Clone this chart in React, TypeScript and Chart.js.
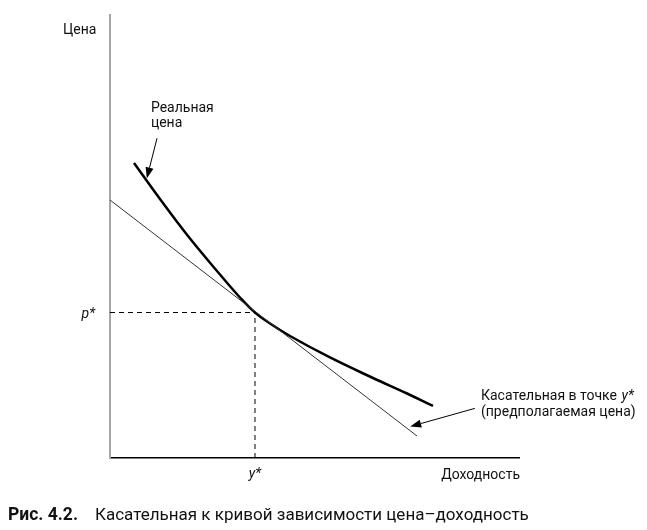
import React, { useEffect, useRef } from "react";
import { Chart, registerables } from "chart.js";

Chart.register(...registerables);

const yieldValues = [5.87, 12.22, 19.07, 26.89, 31.78, 35.45, 39.12, 44.01, 53.79, 64.3, 72.62, 78.97];
const actualPrice = [66.59, 58.47, 50.11, 41.42, 36.23, 32.84, 30.36, 27.54, 22.69, 18.06, 14.56, 11.74];

// Tangent line at y*
const tangentX = [0, 75.06];
const tangentY = [58.24, 4.97];

// Tangency point
const yStar = 35.45;
const pStar = 32.84;

// Arrow annotations (from -> to), chart units
const arrowReal = [11.5, 72.2, 9.0, 63.1];
const arrowTangent = [89.2, 11.2, 73.4, 7.1];

const labelPrice = "Цена";
const labelYield = "Доходность";
const labelReal = ["Реальная", "цена"];
const labelTangent1 = "Касательная в точке ";
const labelTangent2 = "(предполагаемая цена)";
const captionBold = "Рис. 4.2.";
const captionText = "Касательная к кривой зависимости цена–доходность";

const FONT = "Roboto, 'Noto Sans', sans-serif";

function drawArrow(ctx: CanvasRenderingContext2D, x0: number, y0: number, x1: number, y1: number) {
  const ang = Math.atan2(y1 - y0, x1 - x0);
  const len = 11;
  const hw = 4;
  const bx = x1 - len * Math.cos(ang);
  const by = y1 - len * Math.sin(ang);
  ctx.beginPath();
  ctx.moveTo(x0, y0);
  ctx.lineTo(bx, by);
  ctx.lineWidth = 1;
  ctx.strokeStyle = "#000";
  ctx.stroke();
  ctx.beginPath();
  ctx.moveTo(x1, y1);
  ctx.lineTo(bx + hw * Math.sin(ang), by - hw * Math.cos(ang));
  ctx.lineTo(bx - hw * Math.sin(ang), by + hw * Math.cos(ang));
  ctx.closePath();
  ctx.fillStyle = "#000";
  ctx.fill();
}

const annotations = {
  id: "annotations",
  afterDraw(chart: any) {
    const ctx: CanvasRenderingContext2D = chart.ctx;
    const xs = chart.scales.x;
    const ys = chart.scales.y;
    const area = chart.chartArea;
    const px = (v: number) => xs.getPixelForValue(v);
    const py = (v: number) => ys.getPixelForValue(v);
    ctx.save();

    drawArrow(ctx, px(arrowReal[0]), py(arrowReal[1]), px(arrowReal[2]), py(arrowReal[3]));
    drawArrow(ctx, px(arrowTangent[0]), py(arrowTangent[1]), px(arrowTangent[2]), py(arrowTangent[3]));

    ctx.fillStyle = "#111";
    ctx.textBaseline = "alphabetic";
    ctx.font = `14px ${FONT}`;
    ctx.textAlign = "left";
    ctx.fillText(labelPrice, area.left - 47, 34);
    ctx.fillText(labelReal[0], px(10.0), 112);
    ctx.fillText(labelReal[1], px(10.0), 127);

    // tangent label
    const tx = area.right - 38;
    ctx.fillText(labelTangent1, tx, 400);
    const w1 = ctx.measureText(labelTangent1).width;
    ctx.font = `italic 14px ${FONT}`;
    ctx.fillText("y*", tx + w1 + 1, 400);
    ctx.font = `14px ${FONT}`;
    ctx.fillText(labelTangent2, tx, 416);

    ctx.textAlign = "right";
    ctx.fillText(labelYield, area.right + 1, 479);

    ctx.font = `italic 14px ${FONT}`;
    ctx.textAlign = "right";
    ctx.fillText("p*", area.left - 15, 318);
    ctx.textAlign = "center";
    ctx.fillText("y*", px(yStar), 478);

    // caption
    ctx.textAlign = "left";
    ctx.font = `bold 17.5px ${FONT}`;
    ctx.fillText(captionBold, 8, 520);
    ctx.font = `17px ${FONT}`;
    ctx.fillText(captionText, 95, 520);

    ctx.restore();
  },
};

export default function App() {
  const ref = useRef<HTMLCanvasElement>(null);
  useEffect(() => {
    if (!ref.current) return;
    const chart = new Chart(ref.current, {
      type: "scatter",
      data: {
        datasets: [
          {
            data: [
              { x: 0, y: pStar },
              { x: yStar, y: pStar },
            ],
            showLine: true,
            borderColor: "#000",
            borderWidth: 1,
            borderDash: [5, 4],
            pointRadius: 0,
          },
          {
            data: [
              { x: yStar, y: 0 },
              { x: yStar, y: pStar },
            ],
            showLine: true,
            borderColor: "#000",
            borderWidth: 1,
            borderDash: [5, 4],
            pointRadius: 0,
          },
          {
            data: tangentX.map((x, i) => ({ x, y: tangentY[i] })),
            showLine: true,
            borderColor: "#333",
            borderWidth: 1,
            pointRadius: 0,
          },
          {
            data: yieldValues.map((x, i) => ({ x, y: actualPrice[i] })),
            showLine: true,
            borderColor: "#000",
            borderWidth: 2.5,
            pointRadius: 0,
            tension: 0.4,
          },
        ],
      },
      options: {
        animation: false,
        responsive: false,
        devicePixelRatio: 1,
        layout: { padding: { left: 110, right: 128, top: 15, bottom: 72 } },
        plugins: { legend: { display: false }, tooltip: { enabled: false } },
        scales: {
          x: {
            type: "linear",
            min: 0,
            max: 100,
            grid: { display: false, drawTicks: false },
            ticks: { display: false },
            border: { display: true, color: "#000", width: 1.5 },
          },
          y: {
            type: "linear",
            min: 0,
            max: 100,
            grid: { display: false, drawTicks: false },
            ticks: { display: false },
            border: { display: true, color: "#a6a6a6", width: 2 },
          },
        },
      },
      plugins: [annotations],
    });
    return () => chart.destroy();
  }, []);
  return (
    <div style={{ position: "absolute", left: 0, top: 0, width: 647, height: 530, background: "#fff" }}>
      <canvas ref={ref} width={647} height={530} style={{ width: 647, height: 530 }} />
    </div>
  );
}
